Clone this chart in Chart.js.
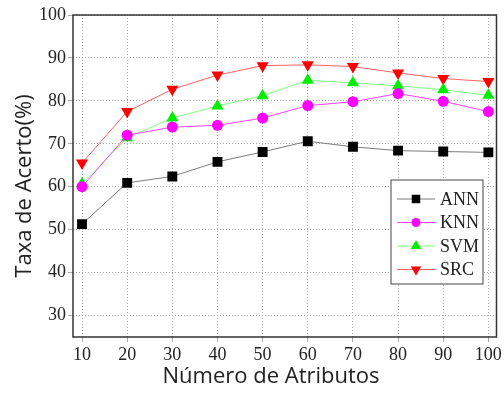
<!DOCTYPE html>
<html lang="en">
<head>
  <meta charset="UTF-8" />
  <title>Taxa de Acerto</title>
  <script src="https://cdn.jsdelivr.net/npm/chart.js"></script>
  <style>
    html, body { margin: 0; padding: 0; background: #fff; }
    #wrap { width: 504px; height: 394px; }
  </style>
</head>
<body>
<div id="wrap"><canvas id="chart" width="504" height="394"></canvas></div>
<script>
  // values
  const atributos = [10, 20, 30, 40, 50, 60, 70, 80, 90, 100];
  const ann = [51.3, 60.9, 62.4, 65.8, 68.1, 70.6, 69.3, 68.4, 68.2, 68.0];
  const knn = [60.0, 72.0, 73.9, 74.3, 76.0, 78.9, 79.8, 81.7, 79.9, 77.5];
  const svm = [60.7, 71.4, 76.0, 78.8, 81.2, 84.8, 84.2, 83.5, 82.6, 81.3];
  const src = [65.5, 77.5, 82.7, 86.0, 88.2, 88.4, 88.0, 86.5, 85.2, 84.5];
  const yTicks = [30, 40, 50, 60, 70, 80, 90, 100];
  const xTitle = 'Número de Atributos';
  const yTitle = 'Taxa de Acerto(%)';

  const pts = arr => arr.map((v, i) => ({ x: atributos[i], y: v }));

  function serie(label, data, line, fill, style, rot, r) {
    return {
      label: label,
      data: pts(data),
      borderColor: line,
      borderWidth: 1,
      pointStyle: style,
      rotation: rot,
      pointRadius: r,
      pointBackgroundColor: fill,
      pointBorderColor: fill,
      pointBorderWidth: 0,
      tension: 0
    };
  }

  // frame, axis titles and legend box inside the plot
  const boxPlugin = {
    id: 'boxPlugin',
    afterDraw(chart) {
      const ctx = chart.ctx;
      const a = chart.chartArea;
      ctx.save();
      ctx.strokeStyle = '#333';
      ctx.lineWidth = 1.5;
      ctx.strokeRect(a.left, a.top, a.right - a.left, a.bottom - a.top);

      // axis titles
      ctx.fillStyle = '#222';
      ctx.font = '22px "Open Sans"';
      ctx.textAlign = 'center';
      ctx.textBaseline = 'middle';
      ctx.fillText(xTitle, 271, 377);
      ctx.save();
      ctx.translate(25, 186);
      ctx.rotate(-Math.PI / 2);
      ctx.fillText(yTitle, 0, 0);
      ctx.restore();

      // legend
      const bx = 391, by = 180, bw = 92, bh = 104;
      ctx.fillStyle = '#fff';
      ctx.fillRect(bx, by, bw, bh);
      ctx.lineWidth = 1;
      ctx.strokeStyle = '#444';
      ctx.strokeRect(bx, by, bw, bh);
      ctx.font = '18px "Liberation Serif"';
      ctx.textAlign = 'left';
      chart.data.datasets.forEach((ds, i) => {
        const y = by + 19 + i * 23.5;
        ctx.strokeStyle = ds.borderColor;
        ctx.lineWidth = 1;
        ctx.beginPath();
        ctx.moveTo(bx + 6, y);
        ctx.lineTo(bx + 44, y);
        ctx.stroke();
        ctx.fillStyle = ds.pointBackgroundColor;
        Chart.helpers.drawPoint(ctx, {
          pointStyle: ds.pointStyle, rotation: ds.rotation,
          radius: ds.pointRadius - 1, borderWidth: 0
        }, bx + 25, y);
        ctx.fillStyle = '#222';
        ctx.fillText(ds.label, bx + 49, y + 1);
      });
      ctx.restore();
    }
  };

  new Chart(document.getElementById('chart'), {
    type: 'line',
    data: {
      datasets: [
        serie('ANN', ann, '#7a7a7a', '#000000', 'rect', 0, 7),
        serie('KNN', knn, '#ff40ff', '#ff00ff', 'circle', 0, 5.5),
        serie('SVM', svm, '#80ff80', '#00ee00', 'triangle', 0, 7),
        serie('SRC', src, '#ff6060', '#ff0000', 'triangle', 180, 7)
      ]
    },
    options: {
      responsive: false,
      animation: false,
      layout: { padding: { top: 15, right: 6, left: 0, bottom: 0 } },
      plugins: { legend: { display: false }, tooltip: { enabled: false } },
      scales: {
        x: {
          type: 'linear',
          min: 8,
          max: 101.8,
          afterBuildTicks: s => { s.ticks = atributos.map(v => ({ value: v })); },
          afterFit: s => { s.height = 57; },
          grid: { color: '#aaa', lineWidth: 1, drawTicks: true, tickLength: 5 },
          border: { display: false, dash: [1, 2] },
          ticks: {
            color: '#222', padding: 2, maxRotation: 0,
            font: { family: '"Liberation Serif"', size: 18 }
          }
        },
        y: {
          min: 25,
          max: 100,
          afterBuildTicks: s => { s.ticks = yTicks.map(v => ({ value: v })); },
          afterFit: s => { s.width = 73; },
          grid: { color: '#aaa', lineWidth: 1, tickLength: 5 },
          border: { display: false, dash: [1, 2] },
          ticks: {
            color: '#222', padding: 2,
            font: { family: '"Liberation Serif"', size: 18 }
          }
        }
      }
    },
    plugins: [boxPlugin]
  });
</script>
</body>
</html>
